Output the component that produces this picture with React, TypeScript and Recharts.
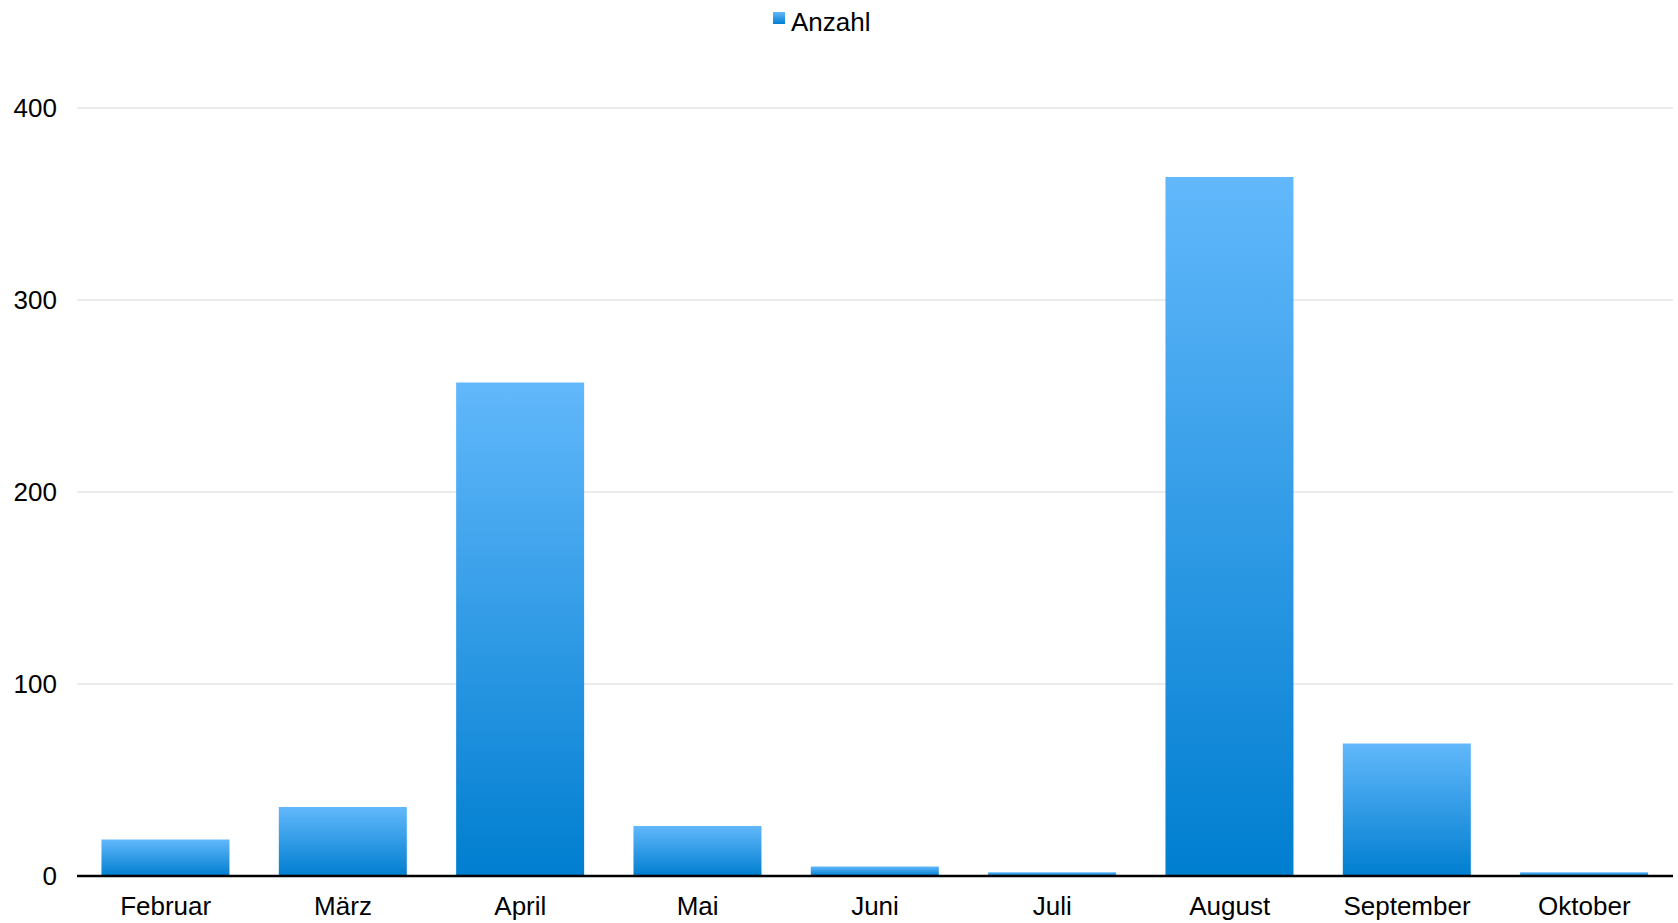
import { BarChart, Bar, XAxis, YAxis, CartesianGrid, Legend } from 'recharts';

// monthly counts
const MONTHS = ['Februar', 'März', 'April', 'Mai', 'Juni', 'Juli', 'August', 'September', 'Oktober'];
const COUNTS = [19, 36, 257, 26, 5, 2, 364, 69, 2];
const Y_TICKS = [0, 100, 200, 300, 400];
const SERIES_NAME = 'Anzahl';

const FONT = '"Liberation Sans", Arial, Helvetica, sans-serif';
const TOP_COLOR = '#62b8fb';
const BOTTOM_COLOR = '#007ed0';

const data = MONTHS.map((month, i) => ({ month, value: COUNTS[i] }));

function LegendBox() {
  return (
    <div style={{ position: 'relative', width: 110, height: 40, fontFamily: FONT }}>
      <div
        style={{
          position: 'absolute',
          left: 0,
          top: 12,
          width: 12,
          height: 12,
          background: `linear-gradient(${TOP_COLOR}, ${BOTTOM_COLOR})`,
        }}
      />
      <div
        style={{
          position: 'absolute',
          left: 18,
          top: 7,
          fontSize: 26,
          lineHeight: '30px',
          color: '#000',
          whiteSpace: 'nowrap',
        }}
      >
        {SERIES_NAME}
      </div>
    </div>
  );
}

export default function App() {
  return (
    <div style={{ position: 'absolute', left: 0, top: 0, background: '#fff' }}>
      <BarChart
        width={1678}
        height={923}
        data={data}
        margin={{ top: 68, right: 5, left: 0, bottom: 0 }}
        barCategoryGap="13.8%"
      >
        <defs>
          <linearGradient id="barFill" x1="0" y1="0" x2="0" y2="1">
            <stop offset="0%" stopColor={TOP_COLOR} />
            <stop offset="100%" stopColor={BOTTOM_COLOR} />
          </linearGradient>
        </defs>
        <CartesianGrid vertical={false} stroke="#d8d8d8" strokeWidth={1} />
        <Legend
          verticalAlign="top"
          content={<LegendBox />}
          wrapperStyle={{ left: 773, top: 0, width: 110, height: 40 }}
        />
        <XAxis
          dataKey="month"
          height={47}
          tickLine={false}
          tickSize={0}
          tickMargin={21}
          axisLine={{ stroke: '#000', strokeWidth: 2.5 }}
          tick={{ fill: '#000', fontSize: 26, fontFamily: FONT }}
          interval={0}
        />
        <YAxis
          width={77}
          domain={[0, 400]}
          ticks={Y_TICKS}
          axisLine={false}
          tickLine={false}
          tickSize={0}
          tickMargin={20}
          tick={{ fill: '#000', fontSize: 26, fontFamily: FONT }}
        />
        <Bar dataKey="value" name={SERIES_NAME} fill="url(#barFill)" isAnimationActive={false} />
      </BarChart>
    </div>
  );
}
